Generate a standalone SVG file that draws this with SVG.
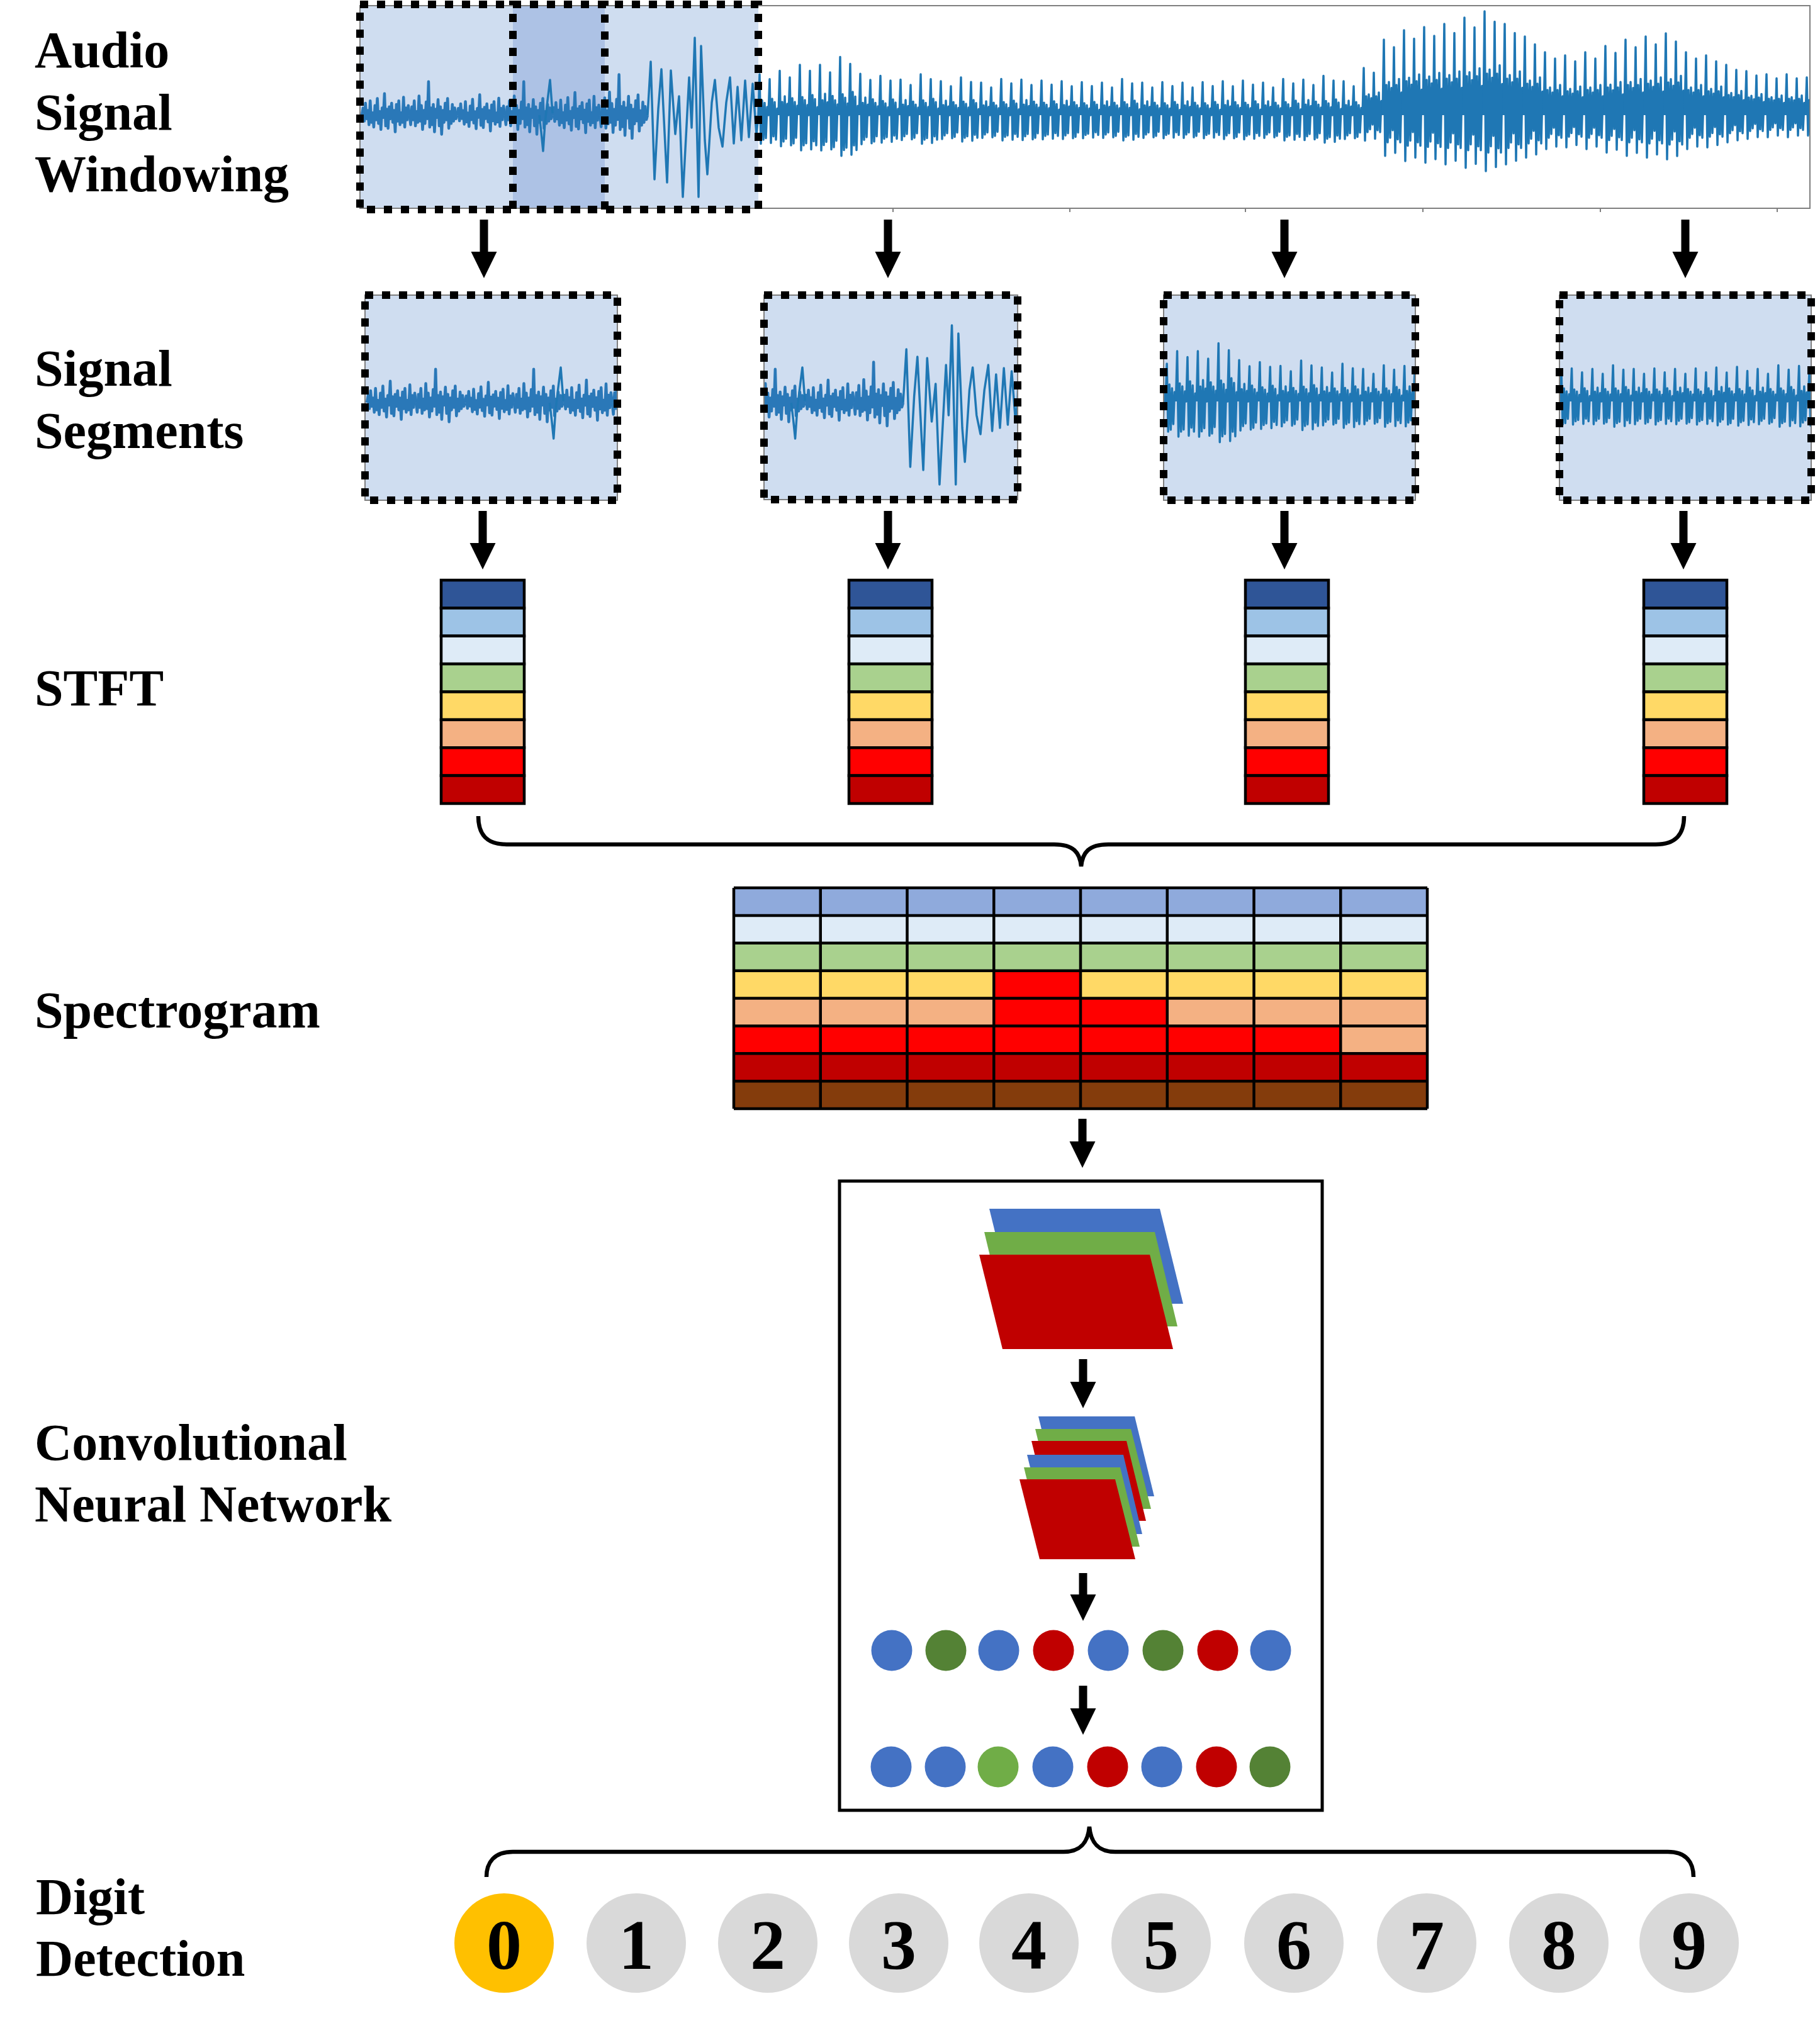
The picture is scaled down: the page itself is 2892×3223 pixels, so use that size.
<svg xmlns="http://www.w3.org/2000/svg" width="2892" height="3223" viewBox="0 0 2892 3223">
<style>
.lbl{font-family:"Liberation Serif","Times New Roman",serif;font-weight:bold;font-size:82px;fill:#000}
.dg{font-family:"Liberation Serif","Times New Roman",serif;font-weight:bold;font-size:112px;fill:#000;text-anchor:middle}
.wv{fill:none;stroke:#1f77b4;stroke-width:3.5;stroke-linejoin:round;vector-effect:non-scaling-stroke}
.nz{fill:none;stroke:#2a78b8;stroke-width:4.5;stroke-linejoin:round;vector-effect:non-scaling-stroke}
.win{fill:none;stroke:#000;stroke-width:12;stroke-dasharray:13 14}
.ax{fill:none;stroke:#7f7f7f;stroke-width:2}
.segbg{fill:#cfddf0}
.cell{stroke:#000;stroke-width:4.5}
.grid{stroke:#000;stroke-width:4.5;fill:none}
.arrow{stroke:#000;stroke-width:13;marker-end:url(#ah)}
.brace{fill:none;stroke:#000;stroke-width:6.5}
.blue{fill:#4472c4}.green{fill:#70ad47}.dgreen{fill:#548235}.red{fill:#c00000}
</style>
<defs>
<marker id="ah" viewBox="0 -21 42 42" refX="1" refY="0" markerWidth="42" markerHeight="42" markerUnits="userSpaceOnUse" orient="auto"><path d="M0,-20.5L42,0L0,20.5z" fill="#000"/></marker>
<path id="nzA" class="nz" d="M0,0 L2,-6 L4,5 L6,-10 L8,3 L10,-4 L12,8 L14,-12 L16,6 L18,-2 L20,10 L22,-8 L24,4 L26,-14 L28,7 L30,-3 L32,12 L34,-6 L36,2 L38,-18 L40,9 L42,-5 L44,11 L46,-7 L48,3 L50,-10 L52,6 L54,-4 L56,14 L58,-9 L60,5 L62,-12 L64,8 L66,-2 L68,6 L70,-15 L72,10 L74,-6 L76,4 L78,-8 L80,0"/>
<path id="nzB" class="nz" d="M0,0 L2,8 L4,-7 L6,4 L8,-12 L10,9 L12,-3 L14,6 L16,-16 L18,5 L20,-8 L22,12 L24,-4 L26,7 L28,-11 L30,3 L32,-28 L34,10 L36,-6 L38,8 L40,-9 L42,14 L44,-5 L46,2 L48,-13 L50,9 L52,-7 L54,16 L56,-4 L58,6 L60,-10 L62,4 L64,-14 L66,11 L68,-3 L70,7 L72,-9 L74,5 L76,-6 L78,3 L80,0"/>
<path id="w3" class="wv" d="M0,0 L5,-85 L11,102 L17,-10 L22,-73 L31,107 L37,-71 L44,30 L50,-30 L56,130 L66,-60 L70,20 L75,-123 L81,130 L85,-110 L91,40 L95,94 L102,-20 L107,-56 L113,20 L119,50 L125,-20 L131,-60 L137,45 L143,-45 L149,40 L155,-55 L161,35 L167,-50 L173,30 L176,0"/>
<path id="prA" class="wv" d="M0,0 L2,-50 L4,35 L6,-18 L8,30 L10,-15 L12,28 L14,-10 L16,0 L18,-44 L20,34 L22,-20 L24,26 L26,-16 L28,30 L30,-8 L32,0"/>
<path id="prB" class="wv" d="M0,0 L2,-47 L4,33 L6,-14 L8,28 L10,-20 L12,25 L14,-12 L16,0 L18,-40 L20,32 L22,-18 L24,30 L26,-14 L28,24 L30,-10 L32,0"/>
<path id="prL" class="wv" d="M0,0 L2,-50 L4,27 L6,-20 L8,18 L10,-22 L12,15 L14,-18 L16,10 L18,-45 L20,25 L22,-20 L24,16 L26,-24 L28,18 L30,-15 L32,0"/>
<g id="wave">
<use href="#nzA" transform="translate(575,183) scale(0.946,1.9)"/>
<use href="#nzB" transform="translate(650.67,183) scale(0.946,1.9)"/>
<use href="#nzA" transform="translate(726.33,183) scale(0.946,1.8)"/>
<use href="#nzB" transform="translate(802,183) scale(0.946,1.9)"/>
<use href="#nzA" transform="translate(877.67,183) scale(0.946,2.0)"/>
<use href="#nzB" transform="translate(953.33,183) scale(0.946,2.3)"/>
<path class="wv" d="M857,183 L860,210 L863,240 L866,195 L870,160 L874,127 L878,180"/>
<use href="#w3" transform="translate(1029,183)"/>
<use href="#prA" transform="translate(1205,183) scale(1,1.3)"/>
<use href="#prB" transform="translate(1237,183) scale(1,1.5)"/>
<use href="#prA" transform="translate(1269,183) scale(1,1.6)"/>
<use href="#prB" transform="translate(1301,183) scale(1,1.7)"/>
<use href="#prA" transform="translate(1333,183) scale(1,1.85)"/>
<use href="#prB" transform="translate(1365,183) scale(1,1.4)"/>
<use href="#prA" transform="translate(1397,183) scale(1,1.25)"/>
<use href="#prB" transform="translate(1429,183) scale(1,1.2)"/>
<use href="#prA" transform="translate(1461,183) scale(1,1.3)"/>
<use href="#prB" transform="translate(1493,183) scale(1,1.15)"/>
<use href="#prA" transform="translate(1525,183) scale(1,1.2)"/>
<use href="#prB" transform="translate(1557,183) scale(1,1.1)"/>
<use href="#prA" transform="translate(1589,183) scale(1,1.15)"/>
<use href="#prB" transform="translate(1621,183) scale(1,1.2)"/>
<use href="#prA" transform="translate(1653,183) scale(1,1.1)"/>
<use href="#prB" transform="translate(1685,183) scale(1,1.15)"/>
<use href="#prA" transform="translate(1717,183) scale(1,1.05)"/>
<use href="#prB" transform="translate(1749,183) scale(1,1.1)"/>
<use href="#prA" transform="translate(1781,183) scale(1,1.15)"/>
<use href="#prB" transform="translate(1813,183) scale(1,1.1)"/>
<use href="#prA" transform="translate(1845,183) scale(1,1.05)"/>
<use href="#prB" transform="translate(1877,183) scale(1,1.1)"/>
<use href="#prA" transform="translate(1909,183) scale(1,1.05)"/>
<use href="#prB" transform="translate(1941,183) scale(1,1.15)"/>
<use href="#prA" transform="translate(1973,183) scale(1,1.1)"/>
<use href="#prB" transform="translate(2005,183) scale(1,1.1)"/>
<use href="#prA" transform="translate(2037,183) scale(1,1.15)"/>
<use href="#prB" transform="translate(2069,183) scale(1,1.2)"/>
<use href="#prA" transform="translate(2101,183) scale(1,1.25)"/>
<use href="#prB" transform="translate(2133,183) scale(1,1.15)"/>
<use href="#prL" transform="translate(2165,183) scale(1,1.5)"/>
<use href="#prL" transform="translate(2197,183) scale(1,2.4)"/>
<use href="#prL" transform="translate(2229,183) scale(1,2.7)"/>
<use href="#prL" transform="translate(2261,183) scale(1,2.8)"/>
<use href="#prL" transform="translate(2293,183) scale(1,2.9)"/>
<use href="#prL" transform="translate(2325,183) scale(1,3.1)"/>
<use href="#prL" transform="translate(2357,183) scale(1,3.3)"/>
<use href="#prL" transform="translate(2389,183) scale(1,2.9)"/>
<use href="#prL" transform="translate(2421,183) scale(1,2.5)"/>
<use href="#prL" transform="translate(2453,183) scale(1,2.0)"/>
<use href="#prL" transform="translate(2485,183) scale(1,1.9)"/>
<use href="#prL" transform="translate(2517,183) scale(1,2.0)"/>
<use href="#prL" transform="translate(2549,183) scale(1,2.2)"/>
<use href="#prL" transform="translate(2581,183) scale(1,2.4)"/>
<use href="#prL" transform="translate(2613,183) scale(1,2.5)"/>
<use href="#prL" transform="translate(2645,183) scale(1,2.6)"/>
<use href="#prL" transform="translate(2677,183) scale(1,2.0)"/>
<use href="#prL" transform="translate(2709,183) scale(1,1.9)"/>
<use href="#prL" transform="translate(2741,183) scale(1,1.6)"/>
<use href="#prL" transform="translate(2773,183) scale(1,1.4)"/>
<use href="#prL" transform="translate(2805,183) scale(1,1.3)"/>
<use href="#prL" transform="translate(2837,183) scale(1,1.3)"/>
<use href="#prL" transform="translate(2869,183) scale(1,1.2)"/>
</g>
<clipPath id="cMain"><rect x="572" y="9" width="2304" height="322"/></clipPath>
<clipPath id="c1"><rect x="580" y="469" width="401" height="326"/></clipPath>
<clipPath id="c2"><rect x="1214" y="469" width="403" height="325"/></clipPath>
<clipPath id="c3"><rect x="1849" y="469" width="400" height="326"/></clipPath>
<clipPath id="c4"><rect x="2478" y="469" width="400" height="326"/></clipPath>
<g id="stftBar">
<rect class="cell" x="0" y="0" width="132" height="44.375" fill="#2f5597"/>
<rect class="cell" x="0" y="44.375" width="132" height="44.375" fill="#9dc3e6"/>
<rect class="cell" x="0" y="88.75" width="132" height="44.375" fill="#deebf7"/>
<rect class="cell" x="0" y="133.125" width="132" height="44.375" fill="#a9d18e"/>
<rect class="cell" x="0" y="177.5" width="132" height="44.375" fill="#ffd966"/>
<rect class="cell" x="0" y="221.875" width="132" height="44.375" fill="#f4b183"/>
<rect class="cell" x="0" y="266.25" width="132" height="44.375" fill="#ff0000"/>
<rect class="cell" x="0" y="310.625" width="132" height="44.375" fill="#c00000"/>
</g>
</defs>

<rect x="0" y="0" width="2892" height="3223" fill="#fff"/>

<g id="labels">
<text class="lbl" x="55" y="107">Audio</text>
<text class="lbl" x="55" y="206">Signal</text>
<text class="lbl" x="55" y="304">Windowing</text>
<text class="lbl" x="55" y="613">Signal</text>
<text class="lbl" x="55" y="712">Segments</text>
<text class="lbl" x="55" y="1121">STFT</text>
<text class="lbl" x="55" y="1633">Spectrogram</text>
<text class="lbl" x="55" y="2320">Convolutional</text>
<text class="lbl" x="55" y="2418">Neural Network</text>
<text class="lbl" x="57" y="3042">Digit</text>
<text class="lbl" x="57" y="3140">Detection</text>
</g>

<g id="audio-signal">
<rect x="572" y="9" width="389" height="322" class="segbg"/>
<rect x="961" y="9" width="244" height="322" class="segbg"/>
<rect x="815" y="9" width="146" height="322" fill="#adc2e5"/>
<g clip-path="url(#cMain)"><use href="#wave"/></g>
<rect x="572" y="9" width="2304" height="322" class="ax"/>
<path d="M1419,331V337M1700,331V337M1979,331V337M2261,331V337M2543,331V337M2824,331V337" stroke="#7f7f7f" stroke-width="2"/>
<rect id="window-1" x="572" y="7" width="389" height="326" class="win"/>
<rect id="window-2" x="815" y="7" width="390" height="326" class="win"/>
</g>

<g id="segment-1">
<rect x="580" y="469" width="401" height="326" class="segbg"/>
<g clip-path="url(#c1)"><use href="#wave" transform="translate(-9.2,457) scale(1.03,1)"/></g>
<rect x="580" y="469" width="401" height="326" class="ax"/>
<rect x="580" y="469" width="401" height="326" class="win"/>
</g>
<g id="segment-2">
<rect x="1214" y="469" width="403" height="325" class="segbg"/>
<g clip-path="url(#c2)"><use href="#wave" transform="translate(372.1,457) scale(1.033,1)"/></g>
<rect x="1214" y="469" width="403" height="325" class="ax"/>
<rect x="1214" y="469" width="403" height="325" class="win"/>
</g>
<g id="segment-3">
<rect x="1849" y="469" width="400" height="326" class="segbg"/>
<g clip-path="url(#c3)"><use href="#wave" transform="translate(566.5,455) scale(1.026,1)"/></g>
<rect x="1849" y="469" width="400" height="326" class="ax"/>
<rect x="1849" y="469" width="400" height="326" class="win"/>
</g>
<g id="segment-4">
<rect x="2478" y="469" width="400" height="326" class="segbg"/>
<g clip-path="url(#c4)"><use href="#wave" transform="translate(733.8,455) scale(1.026,1)"/></g>
<rect x="2478" y="469" width="400" height="326" class="ax"/>
<rect x="2478" y="469" width="400" height="326" class="win"/>
</g>

<g id="stft-1"><use href="#stftBar" transform="translate(701,922)"/></g>
<g id="stft-2"><use href="#stftBar" transform="translate(1349,922)"/></g>
<g id="stft-3"><use href="#stftBar" transform="translate(1979,922)"/></g>
<g id="stft-4"><use href="#stftBar" transform="translate(2612,922)"/></g>

<g id="spectrogram">
<rect x="1166" y="1411" width="1102" height="43.875" fill="#8faadc"/>
<rect x="1166" y="1454.875" width="1102" height="43.875" fill="#deebf7"/>
<rect x="1166" y="1498.75" width="1102" height="43.875" fill="#a9d18e"/>
<rect x="1166" y="1542.625" width="1102" height="43.875" fill="#ffd966"/>
<rect x="1166" y="1586.5" width="1102" height="43.875" fill="#f4b183"/>
<rect x="1166" y="1630.375" width="1102" height="43.875" fill="#ff0000"/>
<rect x="1166" y="1674.25" width="1102" height="43.875" fill="#c00000"/>
<rect x="1166" y="1718.125" width="1102" height="43.875" fill="#843c0c"/>
<rect x="1579.25" y="1542.625" width="137.75" height="43.875" fill="#ff0000"/>
<rect x="1579.25" y="1586.5" width="275.5" height="43.875" fill="#ff0000"/>
<rect x="2130.25" y="1630.375" width="137.75" height="43.875" fill="#f4b183"/>
<path class="grid" d="M1166,1411H2268M1166,1454.875H2268M1166,1498.75H2268M1166,1542.625H2268M1166,1586.5H2268M1166,1630.375H2268M1166,1674.25H2268M1166,1718.125H2268M1166,1762H2268M1166,1411V1762M1303.75,1411V1762M1441.5,1411V1762M1579.25,1411V1762M1717,1411V1762M1854.75,1411V1762M1992.5,1411V1762M2130.25,1411V1762M2268,1411V1762"/>
</g>

<g id="cnn">
<rect x="1334" y="1877" width="767" height="1000" fill="none" stroke="#000" stroke-width="5"/>
<g id="feature-maps-1">
<polygon class="blue" points="1572,1921 1843,1921 1880,2072 1609,2072"/>
<polygon class="green" points="1564,1958 1835,1958 1871,2108 1600,2108"/>
<polygon class="red" points="1556,1994 1827,1994 1864,2144 1593,2144"/>
</g>
<g id="feature-maps-2">
<polygon class="blue" points="1650,2251 1803,2251 1834,2378 1681,2378"/>
<polygon class="green" points="1645,2271 1797,2271 1829,2398 1676,2398"/>
<polygon class="red" points="1639,2290 1790,2290 1821,2417 1670,2417"/>
<polygon class="blue" points="1632,2312 1785,2312 1815,2438 1663,2438"/>
<polygon class="green" points="1627,2332 1780,2332 1811,2458 1658,2458"/>
<polygon class="red" points="1620,2351 1772,2351 1804,2478 1652,2478"/>
</g>
<g id="dense-layer-1">
<circle class="blue" cx="1417" cy="2623" r="32.5"/>
<circle class="dgreen" cx="1503" cy="2623" r="32.5"/>
<circle class="blue" cx="1587" cy="2623" r="32.5"/>
<circle class="red" cx="1674" cy="2623" r="32.5"/>
<circle class="blue" cx="1761" cy="2623" r="32.5"/>
<circle class="dgreen" cx="1848" cy="2623" r="32.5"/>
<circle class="red" cx="1935" cy="2623" r="32.5"/>
<circle class="blue" cx="2019" cy="2623" r="32.5"/>
</g>
<g id="dense-layer-2">
<circle class="blue" cx="1416" cy="2808" r="32.5"/>
<circle class="blue" cx="1502" cy="2808" r="32.5"/>
<circle class="green" cx="1586" cy="2808" r="32.5"/>
<circle class="blue" cx="1673" cy="2808" r="32.5"/>
<circle class="red" cx="1760" cy="2808" r="32.5"/>
<circle class="blue" cx="1846" cy="2808" r="32.5"/>
<circle class="red" cx="1933" cy="2808" r="32.5"/>
<circle class="dgreen" cx="2018" cy="2808" r="32.5"/>
</g>
</g>

<g id="digits">
<g id="digit-0"><circle cx="801" cy="3088" r="79" fill="#ffc000"/><text class="dg" x="801" y="3129">0</text></g>
<g id="digit-1"><circle cx="1011" cy="3088" r="79" fill="#d9d9d9"/><text class="dg" x="1011" y="3129">1</text></g>
<g id="digit-2"><circle cx="1220" cy="3088" r="79" fill="#d9d9d9"/><text class="dg" x="1220" y="3129">2</text></g>
<g id="digit-3"><circle cx="1428" cy="3088" r="79" fill="#d9d9d9"/><text class="dg" x="1428" y="3129">3</text></g>
<g id="digit-4"><circle cx="1635" cy="3088" r="79" fill="#d9d9d9"/><text class="dg" x="1635" y="3129">4</text></g>
<g id="digit-5"><circle cx="1845" cy="3088" r="79" fill="#d9d9d9"/><text class="dg" x="1845" y="3129">5</text></g>
<g id="digit-6"><circle cx="2056" cy="3088" r="79" fill="#d9d9d9"/><text class="dg" x="2056" y="3129">6</text></g>
<g id="digit-7"><circle cx="2267" cy="3088" r="79" fill="#d9d9d9"/><text class="dg" x="2267" y="3129">7</text></g>
<g id="digit-8"><circle cx="2477" cy="3088" r="79" fill="#d9d9d9"/><text class="dg" x="2477" y="3129">8</text></g>
<g id="digit-9"><circle cx="2684" cy="3088" r="79" fill="#d9d9d9"/><text class="dg" x="2684" y="3129">9</text></g>
</g>

<g id="connectors">
<line class="arrow" x1="769" y1="349" x2="769" y2="401"/>
<line class="arrow" x1="1411" y1="349" x2="1411" y2="401"/>
<line class="arrow" x1="2041" y1="349" x2="2041" y2="401"/>
<line class="arrow" x1="2678" y1="349" x2="2678" y2="401"/>
<line class="arrow" x1="767" y1="812" x2="767" y2="864"/>
<line class="arrow" x1="1411" y1="812" x2="1411" y2="864"/>
<line class="arrow" x1="2041" y1="812" x2="2041" y2="864"/>
<line class="arrow" x1="2675" y1="812" x2="2675" y2="864"/>
<path class="brace" d="M760,1297 C760,1325 772,1342 805,1342 L1675,1342 C1706,1342 1716,1355 1718,1377 C1720,1355 1730,1342 1761,1342 L2631,1342 C2664,1342 2676,1325 2676,1297"/>
<line class="arrow" x1="1720" y1="1778" x2="1720" y2="1815"/>
<line class="arrow" x1="1721" y1="2160" x2="1721" y2="2197"/>
<line class="arrow" x1="1721" y1="2500" x2="1721" y2="2535"/>
<line class="arrow" x1="1721" y1="2679" x2="1721" y2="2716"/>
<path class="brace" d="M773,2983 C773,2960 785,2943 815,2943 L1690,2943 C1720,2943 1729,2925 1731,2903 C1733,2925 1742,2943 1772,2943 L2650,2943 C2680,2943 2691,2960 2691,2983"/>
</g>
</svg>
